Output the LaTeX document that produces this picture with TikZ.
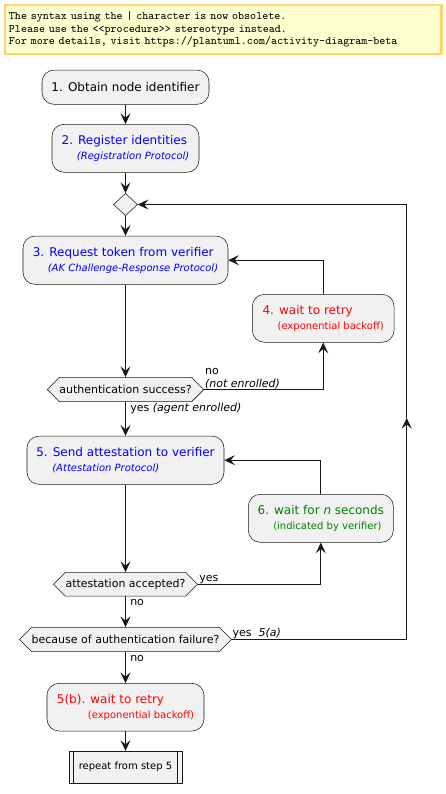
\documentclass[tikz,border=0pt]{standalone}
\usepackage{fontspec}
\setmainfont{DejaVu Sans}
\usetikzlibrary{arrows.meta,shapes.geometric,shapes.symbols}

\definecolor{actfill}{RGB}{241,241,241}
\definecolor{actline}{RGB}{24,24,24}
\definecolor{notefill}{RGB}{255,255,208}
\definecolor{noteline}{RGB}{255,212,112}
\definecolor{protoblue}{RGB}{0,0,255}
\definecolor{retryred}{RGB}{255,0,0}
\definecolor{waitgreen}{RGB}{0,128,0}

\newcommand{\mainsize}{\fontsize{9}{11.25}\selectfont}
\newcommand{\subsize}{\fontsize{7.5}{9}\selectfont}
\newcommand{\lblsize}{\fontsize{8.25}{10}\selectfont}
\newcommand{\notesize}{\ttfamily\fontsize{8.6}{9.4}\selectfont}

\begin{document}
\begin{tikzpicture}[x=0.75pt,y=0.75pt,yscale=-1,xscale=1,
  activity/.style={draw=actline, line width=0.4pt, fill=actfill, rectangle, rounded corners=9pt, align=left, font=\mainsize, inner sep=0pt},
  merge/.style={draw=actline, line width=0.4pt, fill=actfill, diamond, minimum width=18pt, minimum height=16.8pt, inner sep=0pt},
  decision/.style={draw=actline, line width=0.4pt, fill=actfill, signal, signal to=east and west, signal pointer angle=90, inner sep=0pt, font=\lblsize},
  subproc/.style={draw=actline, line width=0.4pt, fill=actfill, rectangle, inner sep=0pt, font=\subsize,
    path picture={\draw[actline, line width=0.4pt] ([xshift=3.5pt]path picture bounding box.north west) -- ([xshift=3.5pt]path picture bounding box.south west) ([xshift=-3.5pt]path picture bounding box.north east) -- ([xshift=-3.5pt]path picture bounding box.south east);}},
  note/.style={draw=noteline, line width=2pt, fill=notefill, rectangle, inner xsep=3pt, inner ysep=0pt, text width=321.5pt, minimum height=36.75pt, align=left, font=\notesize},
  flow/.style={draw=actline, line width=0.75pt, -{Stealth[length=8pt,width=7.5pt,inset=3.2pt]}},
  branch/.style={anchor=base west, inner sep=0pt, font=\lblsize, align=left},
]
\useasboundingbox (0,0) rectangle (446,794);

%Shape: Note
\node[note] (warn) at (223.3,29.5) {The syntax using the | character is now obsolete.\\Please use the <<procedure>> stereotype instead.\\For more details, visit https://plantuml.com/activity-diagram-beta};

%Shape: Activities
\node[activity, minimum width=125.25pt, minimum height=25.7pt] (obtain) at (125.5,87.2) {1. Obtain node identifier};
\node[activity, text=protoblue, minimum width=110.25pt, minimum height=36pt] (register) at (125.5,148.3) {2. Register identities\\\hspace*{11.5pt}{\subsize\itshape (Registration Protocol)}};
\node[merge] (loopback) at (125.5,204.5) {};
\node[activity, text=protoblue, minimum width=153.75pt, minimum height=36.2pt] (token) at (125.5,260.2) {3. Request token from verifier\\\hspace*{11.25pt}{\subsize\itshape (AK Challenge-Response Protocol)}};
\node[activity, text=retryred, minimum width=106.3pt, minimum height=36pt] (retry) at (323.2,318.3) {4. wait to retry\\\hspace*{11.25pt}{\subsize (exponential backoff)}};
\node[decision, minimum width=117.5pt, minimum height=18.3pt] (authok) at (125.5,389.5) {authentication success?};
\node[activity, text=protoblue, minimum width=147.75pt, minimum height=36.2pt] (attest) at (125.5,460.2) {5. Send attestation to verifier\\\hspace*{12pt}{\subsize\itshape (Attestation Protocol)}};
\node[activity, text=waitgreen, minimum width=108.75pt, minimum height=36pt] (waitn) at (320.8,518.3) {6. wait for \textit{n} seconds\\\hspace*{11.75pt}{\subsize (indicated by verifier)}};
\node[decision, minimum width=108pt, minimum height=17.8pt] (accepted) at (125.5,584.2) {attestation accepted?};
\node[decision, minimum width=158.25pt, minimum height=18.3pt] (authfail) at (125.5,639.5) {because of authentication failure?};
\node[activity, text=retryred, minimum width=117.75pt, minimum height=35.8pt] (backoff) at (125.5,707.2) {5(b). wait to retry\\\hspace*{23.25pt}{\subsize (exponential backoff)}};
\node[subproc, minimum width=84.75pt, minimum height=24.2pt] (repeat) at (125.5,767.2) {repeat from step 5};

%Text: branch labels
\node[branch, anchor=south west] (notenrolled) at (204.8,389.5) {no\\\textit{(not enrolled)}};
\node[branch] (enrolled) at (130,411.3) {yes \textit{(agent enrolled)}};
\node[branch] (accyes) at (199,581.7) {yes};
\node[branch] (accno) at (130,605.7) {no};
\node[branch] (failyes) at (232.3,636.3) {yes\ \ \textit{5(a)}};
\node[branch] (failno) at (130,661.3) {no};

%Straight Lines
\draw[flow] (obtain.south) -- (register.north);
\draw[flow] (register.south) -- (loopback.north);
\draw[flow] (loopback.south) -- (token.north);
\draw[flow] (token.south) -- (authok.north);
\draw[flow] (authok.east) -| (retry.south);
\draw[flow] (retry.north) |- (token.east);
\draw[flow] (authok.south) -- (attest.north);
\draw[flow] (attest.south) -- (accepted.north);
\draw[flow] (accepted.east) -| (waitn.south);
\draw[flow] (waitn.north) |- (attest.east);
\draw[flow] (accepted.south) -- (authfail.north);
%Loop back to the merge
\coordinate (loopup) at (406.7,418);
\draw[flow] (authfail.east) -| (loopup);
\draw[flow] (loopup) |- (loopback.east);
\draw[flow] (authfail.south) -- (backoff.north);
\draw[flow] (backoff.south) -- (repeat.north);

\end{tikzpicture}
\end{document}
